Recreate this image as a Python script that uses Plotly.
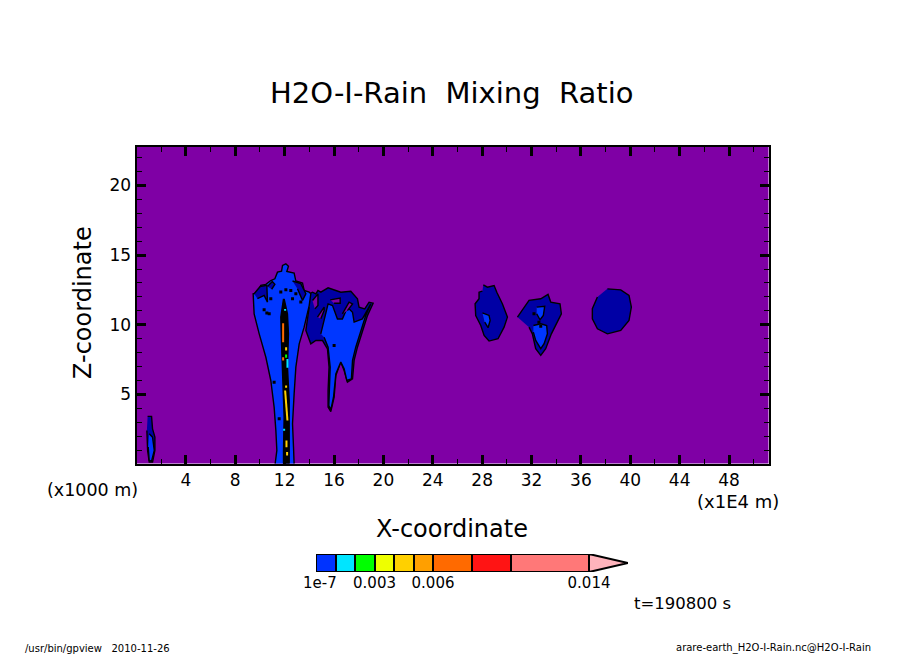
import plotly.graph_objects as go

# colours
bg_purple = "#7f00a5"
navy = "#0000a5"
light_blue = "#0037ff"

# main plume outline (x in 1E4 m, z in km)
plume_x = [11.23, 11.37, 11.29, 11.15, 10.88, 10.48, 9.94, 9.53, 9.45, 9.86, 10.07, 10.48, 10.88, 11.21, 11.42, 11.75, 11.83, 12.10, 12.31, 12.18, 12.77, 12.91, 13.45, 13.58, 13.99, 14.12, 13.99, 13.58, 13.18, 12.91, 12.77, 12.64, 12.72, 12.77]
plume_z = [0, 0.98, 2.41, 4.09, 6.0, 7.67, 9.35, 10.78, 12.23, 12.3, 12.83, 12.9, 13.18, 13.3, 13.78, 13.85, 14.26, 14.38, 14.21, 13.83, 13.71, 13.14, 12.99, 12.47, 12.35, 12.22, 11.38, 9.83, 8.63, 6.96, 5.04, 2.89, 1.22, 0]

# dense black core of the plume
core_x = [11.91, 11.69, 11.75, 11.83, 11.83, 11.96, 11.91, 11.91, 12.37, 12.37, 12.37, 12.23, 12.31, 12.23, 11.96]
core_z = [11.86, 10.55, 8.63, 6.96, 5.76, 3.37, 0.98, 0, 0, 2.17, 4.57, 6.96, 9.35, 10.78, 11.86]

# navy patches at the plume top
patch_a_x = [9.53, 10.02, 10.56, 10.61, 10.34, 9.8]
patch_a_z = [12.23, 12.75, 12.83, 11.63, 12.11, 11.87]
patch_b_x = [12.64, 13.31, 13.72, 13.45, 13.04]
patch_b_z = [13.14, 12.95, 12.23, 11.75, 12.59]
patch_c_x = [10.61, 11.0, 11.21, 10.95]
patch_c_z = [12.75, 13.1, 12.9, 12.55]

# second plume
second_x = [13.99, 14.26, 14.53, 14.7, 14.93, 15.52, 16.15, 16.55, 17.36, 17.9, 18.03, 18.49, 18.84, 19.17, 18.71, 18.3, 17.9, 17.63, 17.5, 17.09, 16.82, 16.55, 16.15, 16.01, 15.74, 15.52, 15.52, 15.6, 15.47, 15.07, 14.53, 14.12, 13.72, 13.99]
second_z = [12.22, 12.34, 12.22, 12.46, 12.34, 12.65, 12.46, 12.34, 12.41, 11.86, 11.26, 11.14, 11.62, 11.55, 10.66, 9.59, 8.39, 7.44, 6.12, 5.88, 6.72, 7.32, 6.36, 4.8, 3.77, 4.09, 5.28, 6.96, 8.27, 8.87, 8.87, 8.63, 9.59, 11.26]
second_in_x = [14.93, 15.34, 15.52, 15.88, 16.28, 16.68, 17.09, 17.5, 17.63, 18.3, 18.98, 18.57, 17.76, 17.5, 17.41, 17.04, 16.82, 16.55, 16.15, 15.96, 15.74, 15.58, 15.6, 15.69, 15.52, 15.2]
second_in_z = [9.35, 10.9, 11.5, 11.38, 10.42, 10.42, 11.26, 10.9, 10.19, 10.42, 11.5, 10.66, 8.39, 7.44, 6.12, 6.0, 6.84, 7.32, 6.48, 4.8, 3.89, 4.2, 5.28, 6.96, 8.39, 9.11]
hole1_x = [14.26, 14.7, 14.7, 14.45]
hole1_z = [11.74, 12.22, 11.38, 11.14]
hole2_x = [15.69, 16.5, 16.5, 16.01]
hole2_z = [11.79, 11.91, 11.55, 11.55]
hole3_x = [16.68, 17.22, 17.5, 17.09]
hole3_z = [10.78, 11.62, 11.5, 11.02]
hole4_x = [14.66, 15.2, 15.2, 14.93]
hole4_z = [10.55, 11.27, 11.03, 10.43]

# isolated blobs
blob1_x = [28.1, 28.43, 28.97, 29.19, 29.64, 30.05, 29.78, 29.29, 28.56, 28.16, 27.89, 27.48, 27.43, 27.75, 27.75, 28.02]
blob1_z = [12.87, 12.7, 12.82, 12.34, 11.51, 10.55, 9.83, 9.0, 8.83, 9.23, 9.95, 10.67, 11.51, 11.87, 12.34, 12.42]
blob1_in_x = [28.02, 28.56, 28.65, 28.48, 28.21]
blob1_in_z = [10.86, 10.67, 10.31, 9.79, 10.19]
blob2_x = [30.86, 31.8, 32.75, 33.34, 33.56, 34.31, 34.42, 34.1, 33.61, 33.15, 32.75, 32.34, 32.07, 31.8]
blob2_z = [10.55, 11.75, 11.87, 12.18, 11.63, 11.51, 10.79, 10.19, 9.35, 8.28, 7.8, 8.28, 9.35, 9.83]
blob2_in1_x = [32.42, 33.07, 32.96, 32.69, 32.42]
blob2_in1_z = [11.27, 11.32, 10.67, 10.36, 10.79]
blob2_in2_x = [32.15, 32.75, 33.23, 33.29, 33.02, 32.75, 32.34, 32.15]
blob2_in2_z = [9.95, 10.07, 9.95, 9.35, 8.64, 8.28, 8.88, 9.47]
blob3_x = [38.15, 39.23, 39.9, 40.09, 39.9, 39.23, 38.15, 37.34, 36.93, 36.93, 37.34]
blob3_z = [12.58, 12.51, 12.11, 11.27, 10.31, 9.59, 9.35, 9.71, 10.43, 11.15, 11.99]

# small column at the left edge
left_x = [0.9, 1.22, 1.3, 1.49, 1.49, 1.3, 1.03, 0.9, 0.84]
left_z = [3.42, 3.42, 2.53, 1.93, 0.98, 0.14, 0.14, 0.98, 2.41]
left_in_x = [1.03, 1.30, 1.44, 1.22, 1.03, 0.95]
left_in_z = [2.17, 1.93, 0.98, 0.21, 0.26, 1.22]

# coloured streaks inside the black core
orange_x = [11.88, 11.88, None, 11.88, 11.88]
orange_z = [10.11, 8.75, None, 7.67, 7.44]
yellow_x = [12.12, 12.12, None, 12.04, 12.15, 12.23, None, 12.12, 12.12, None, 12.15, 12.15, None, 12.2, 12.2]
yellow_z = [8.39, 8.15, None, 5.28, 4.09, 3.13, None, 5.64, 5.47, None, 1.69, 1.2, None, 0.86, 0.62]
green_x = [12.12, 12.12]
green_z = [7.87, 7.63]
cyan_x = [12.23, 12.23, None, 11.96, 11.96, None, 12.04, 12.04]
cyan_z = [7.55, 6.91, None, 2.53, 2.4, None, 11.14, 11.0]

# stray black contour specks
speck_x = [10.34, 10.56, 10.75, 11.69, 12.1, 12.5, 12.91, 13.31, 12.64, 10.88, 11.56, 11.15, 16.01, 32.2, 32.6, 32.75]
speck_z = [11.08, 10.84, 10.79, 12.35, 12.51, 12.47, 12.23, 11.63, 11.87, 11.87, 3.25, 5.88, 8.51, 10.79, 10.19, 9.9]

# colour bar
bar_levels = [1e-7, 0.001, 0.002, 0.003, 0.004, 0.005, 0.006, 0.008, 0.010, 0.014]
bar_colors = ["#0033ff", "#00e5ff", "#00ff00", "#eeff00", "#ffd000", "#ff9f00", "#ff6a00", "#ff1414", "#ff7878"]
tip_x = [0.014, 0.016, 0.014, 0.014]
tip_y = [1, 0.5, 0, 1]
bar_ticks = [0.0002, 0.003, 0.006, 0.014]
bar_labels = ["1e-7", "0.003", "0.006", "0.014"]

x_ticks = [4, 8, 12, 16, 20, 24, 28, 32, 36, 40, 44, 48]
x_minor = [2, 6, 10, 14, 18, 22, 26, 30, 34, 38, 42, 46, 50]
z_ticks = [5, 10, 15, 20]
z_minor = [1, 2, 3, 4, 6, 7, 8, 9, 11, 12, 13, 14, 16, 17, 18, 19, 21, 22]

fig = go.Figure()


def add_region(x, z, color, line_width=1.4):
    fig.add_trace(go.Scatter(x=x, y=z, mode="lines", fill="toself", fillcolor=color,
                             line=dict(color="black", width=line_width), hoverinfo="skip"))


def add_streak(x, z, color, width=2):
    fig.add_trace(go.Scatter(x=x, y=z, mode="lines", connectgaps=False,
                             line=dict(color=color, width=width), hoverinfo="skip"))


add_region(second_x, second_z, navy)
add_region(second_in_x, second_in_z, light_blue)
add_region(hole1_x, hole1_z, bg_purple)
add_region(hole2_x, hole2_z, bg_purple)
add_region(hole3_x, hole3_z, bg_purple)
add_region(hole4_x, hole4_z, bg_purple)
add_region(plume_x, plume_z, light_blue)
add_region(patch_a_x, patch_a_z, navy)
add_region(patch_b_x, patch_b_z, navy)
add_region(patch_c_x, patch_c_z, navy)
add_region(core_x, core_z, "black")
add_region(blob1_x, blob1_z, navy)
add_region(blob1_in_x, blob1_in_z, light_blue)
add_region(blob2_x, blob2_z, navy)
add_region(blob2_in1_x, blob2_in1_z, light_blue)
add_region(blob2_in2_x, blob2_in2_z, light_blue)
add_region(blob3_x, blob3_z, navy)
add_region(left_x, left_z, navy)
add_region(left_in_x, left_in_z, light_blue)
add_streak(orange_x, orange_z, "#ff6a00")
add_streak(yellow_x, yellow_z, "#ffd000")
add_streak(green_x, green_z, "#00ff00")
add_streak(cyan_x, cyan_z, "#00e5ff")
fig.add_trace(go.Scatter(x=speck_x, y=speck_z, mode="markers", hoverinfo="skip",
                         marker=dict(color="black", size=3, symbol="square")))

# colour bar on its own small axes
for i, color in enumerate(bar_colors):
    fig.add_trace(go.Bar(x=[bar_levels[i + 1] - bar_levels[i]], y=[0.5], base=[bar_levels[i]], width=1,
                         orientation="h", xaxis="x2", yaxis="y2", hoverinfo="skip",
                         marker=dict(color=color, line=dict(color="black", width=2))))
fig.add_trace(go.Scatter(x=tip_x, y=tip_y, mode="lines", fill="toself", fillcolor="#ffb4bc", xaxis="x2", yaxis="y2",
                         line=dict(color="black", width=2), hoverinfo="skip"))

font_name = "DejaVu Sans"
axis_style = dict(showline=True, linecolor="black", linewidth=2, mirror="ticks", ticks="inside",
                  ticklen=9, tickwidth=2.5, tickcolor="black", showgrid=False, zeroline=False, automargin=False,
                  tickfont=dict(family=font_name, size=17, color="black"))

fig.update_layout(
    width=904, height=654, autosize=False,
    margin=dict(l=0, r=0, t=0, b=0, autoexpand=False),
    paper_bgcolor="white", plot_bgcolor="white",
    showlegend=False, barmode="overlay", bargap=0,
    xaxis=dict(domain=[136.5 / 904, 768.5 / 904], range=[0, 51.2], tickmode="array", tickvals=x_ticks,
               minor=dict(tickmode="array", tickvals=x_minor, ticks="inside", ticklen=5, tickwidth=1, tickcolor="black"),
               **axis_style),
    yaxis=dict(domain=[190.5 / 654, 507.5 / 654], range=[0.04, 22.8], tickmode="array", tickvals=z_ticks,
               minor=dict(tickmode="array", tickvals=z_minor, ticks="inside", ticklen=5, tickwidth=1, tickcolor="black"),
               **axis_style),
    xaxis2=dict(domain=[316 / 904, 628 / 904], range=[0, 0.016], anchor="y2", showgrid=False, zeroline=False,
                showline=False, ticks="", tickmode="array", tickvals=bar_ticks, ticktext=bar_labels, automargin=False,
                tickfont=dict(family=font_name, size=15, color="black")),
    yaxis2=dict(domain=[82 / 654, 100 / 654], range=[0, 1], anchor="x2", showgrid=False, zeroline=False,
                showline=False, showticklabels=False, ticks="", automargin=False),
    shapes=[dict(type="rect", xref="x domain", yref="y domain", x0=0, x1=1, y0=0, y1=1,
                 fillcolor=bg_purple, line=dict(width=0), layer="below")],
)


def add_text(text, px, py, size, anchor="center", angle=0):
    fig.add_annotation(text=text, x=px / 904, y=1 - py / 654, xref="paper", yref="paper", showarrow=False,
                       xanchor=anchor, yanchor="middle", textangle=angle,
                       font=dict(family=font_name, size=size, color="black"))


add_text("H2O-I-Rain\u00a0\u00a0Mixing\u00a0\u00a0Ratio", 452, 93, 29)
add_text("X-coordinate", 452, 529, 24)
add_text("Z-coordinate", 83, 303, 24, angle=-90)
add_text("(x1000 m)", 45, 490, 17.5, anchor="left")
add_text("(x1E4 m)", 695, 501, 18, anchor="left")
add_text("t=190800 s", 632, 603, 16.5, anchor="left")
add_text("/usr/bin/gpview\u00a0\u00a0\u00a02010-11-26", 23, 648, 10, anchor="left")
add_text("arare-earth_H2O-I-Rain.nc@H2O-I-Rain", 873, 648, 10, anchor="right")

fig.write_html("out.html", config=dict(displayModeBar=False),
               post_script="document.body.style.margin='0';")
